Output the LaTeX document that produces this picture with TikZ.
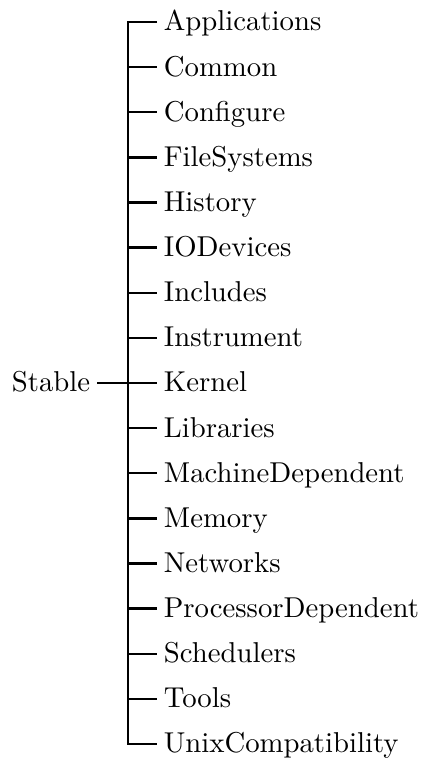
\documentclass[tikz,border=0pt]{standalone}
\usepackage{tikz}
\tikzstyle{dir}=[anchor=west, inner xsep=2pt, inner ysep=0pt, text height=7pt, text depth=0.75pt]
\tikzstyle{root}=[anchor=east, inner xsep=2pt, inner ysep=0pt, text height=7pt, text depth=0.75pt]

\begin{document}
\begin{tikzpicture}[x = 0.348pt, y = -0.348pt, thick]
\useasboundingbox (0,0) rectangle (422,758);
% Root
    \node[root] (stable) at (97,383) {Stable};
    \coordinate (j) at (128,383);
% Directories
    \node[dir] (apps)    at (157,22)    {Applications};
    \node[dir] (common)  at (157,67.1)  {Common};
    \node[dir] (config)  at (157,112.3) {Configure};
    \node[dir] (fs)      at (157,157.4) {FileSystems};
    \node[dir] (hist)    at (157,202.5) {History};
    \node[dir] (iodev)   at (157,247.6) {IODevices};
    \node[dir] (incl)    at (157,292.8) {Includes};
    \node[dir] (instr)   at (157,337.9) {Instrument};
    \node[dir] (kernel)  at (157,383)   {Kernel};
    \node[dir] (libs)    at (157,428.1) {Libraries};
    \node[dir] (machdep) at (157,473.3) {MachineDependent};
    \node[dir] (mem)     at (157,518.4) {Memory};
    \node[dir] (net)     at (157,563.5) {Networks};
    \node[dir] (procdep) at (157,608.6) {ProcessorDependent};
    \node[dir] (sched)   at (157,653.8) {Schedulers};
    \node[dir] (tools)   at (157,698.9) {Tools};
    \node[dir] (unix)    at (157,744)   {UnixCompatibility};
% Trunk
    \draw (stable) -- (j);
    \draw (apps.west) -- (j |- apps.west) -- (j |- unix.west) -- (unix.west);
% Branches
    \draw (j |- common.west) -- (common.west);
    \draw (j |- config.west) -- (config.west);
    \draw (j |- fs.west) -- (fs.west);
    \draw (j |- hist.west) -- (hist.west);
    \draw (j |- iodev.west) -- (iodev.west);
    \draw (j |- incl.west) -- (incl.west);
    \draw (j |- instr.west) -- (instr.west);
    \draw (j |- kernel.west) -- (kernel.west);
    \draw (j |- libs.west) -- (libs.west);
    \draw (j |- machdep.west) -- (machdep.west);
    \draw (j |- mem.west) -- (mem.west);
    \draw (j |- net.west) -- (net.west);
    \draw (j |- procdep.west) -- (procdep.west);
    \draw (j |- sched.west) -- (sched.west);
    \draw (j |- tools.west) -- (tools.west);
\end{tikzpicture}
\end{document}
